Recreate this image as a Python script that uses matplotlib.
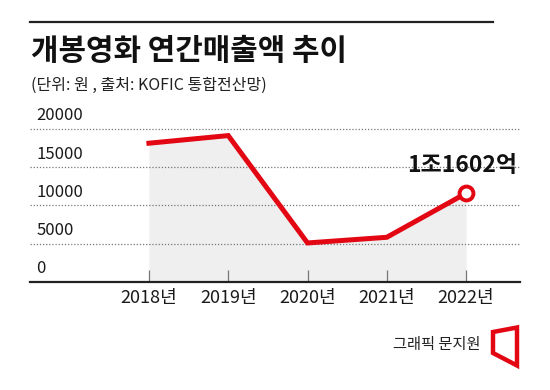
import matplotlib
matplotlib.use("Agg")
import matplotlib.pyplot as plt
from matplotlib.patches import Polygon
from matplotlib.lines import Line2D

plt.rcParams['font.family'] = ['Noto Sans CJK KR', 'DejaVu Sans']

# ---- data ----
years = ["2018년", "2019년", "2020년", "2021년", "2022년"]
sales = [18140, 19140, 5104, 5845, 11602]   # 억원
y_ticks = [0, 5000, 10000, 15000, 20000]
y_tick_labels = ["0", "5000", "10000", "15000", "20000"]
last_label = "1조1602억"
title = "개봉영화 연간매출액 추이"
subtitle = "(단위: 원 , 출처: KOFIC 통합전산망)"
credit = "그래픽 문지원"

RED = "#e30613"
W, H = 550, 390
fig = plt.figure(figsize=(W / 100, H / 100), dpi=100)

def fx(px):
    return px / W

def fy(py):
    return 1 - py / H

# axes: x 30..520 px, y 120..282 px
ax = fig.add_axes([fx(30), fy(282), fx(520) - fx(30), fy(120) - fy(282)])
x = list(range(len(years)))
ax.set_xlim(-1.5, 4.68)
ax.set_ylim(0, 21176)

ax.fill_between(x, sales, 0, color="#efefef", zorder=1, linewidth=0)
for v in y_ticks[1:]:
    ax.axhline(v, color="#777777", lw=0.9, ls=(0, (1, 1.5)), zorder=2)
ax.plot(x, sales, color=RED, lw=3.6, solid_joinstyle="miter", zorder=3)
ax.plot([x[-1]], [sales[-1]], marker="o", ms=10, mfc="white", mec=RED, mew=2.8, zorder=4)

ax.annotate(last_label, (x[-1], sales[-1]), xytext=(-3, 12), textcoords="offset points",
            ha="center", va="bottom", fontsize=16.5, fontweight="bold", color="#111111", zorder=5)

for v, lab in zip(y_ticks, y_tick_labels):
    ax.annotate(lab, (0, v), xycoords=ax.get_yaxis_transform(), xytext=(4.5, 9.5),
                textcoords="offset points", ha="left", va="center", fontsize=12,
                color="#1a1a1a", annotation_clip=False)

for s in ["top", "right", "left"]:
    ax.spines[s].set_visible(False)
ax.spines["bottom"].set_color("#222222")
ax.spines["bottom"].set_linewidth(1.6)
ax.set_yticks([])
ax.set_xticks(x)
ax.set_xticklabels(years, fontsize=13, color="#1a1a1a")
ax.tick_params(axis="x", direction="in", length=9, width=0.9, color="#777777", pad=5)
ax.set_facecolor("none")

# header
fig.add_artist(Line2D([fx(30), fx(493)], [fy(22), fy(22)], color="#222222", lw=1.6))
fig.text(fx(31), fy(51), title, fontsize=21.5, fontweight="bold", color="#111111",
         ha="left", va="center")
fig.text(fx(31), fy(85), subtitle, fontsize=11.5, color="#222222", ha="left", va="center")

# credit
fig.text(fx(480), fy(344), credit, fontsize=11, color="#222222", ha="right", va="center")
logo = Polygon([(fx(493), fy(332)), (fx(517), fy(327.5)), (fx(517), fy(365.5)), (fx(493), fy(353))],
               closed=True, fill=False, edgecolor=RED, lw=3.2, joinstyle="miter",
               transform=fig.transFigure)
fig.add_artist(logo)

fig.savefig("out.png", dpi=100, facecolor="white")
